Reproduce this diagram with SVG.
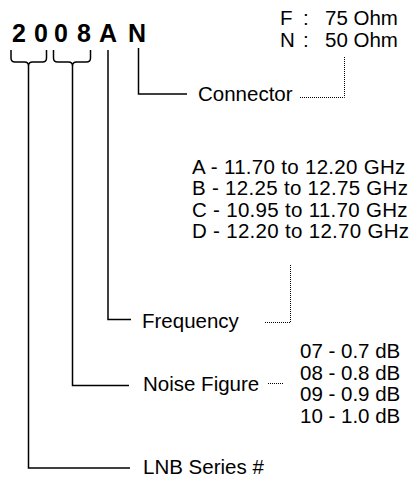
<svg xmlns="http://www.w3.org/2000/svg" width="416" height="477" viewBox="0 0 416 477">
<style>
text{font-family:"Liberation Sans",Arial,sans-serif;font-size:20.5px;fill:#000}
.code{font-weight:bold;font-size:25px;text-anchor:middle}
.ln{fill:none;stroke:#000;stroke-width:1.5}
.dot{fill:none;stroke:#000;stroke-width:1;stroke-dasharray:1 1}
</style>
<rect width="416" height="477" fill="#fff"/>
<g id="code">
<text class="code" x="19" y="42">2</text>
<text class="code" x="41" y="42">0</text>
<text class="code" x="61" y="42">0</text>
<text class="code" x="84" y="42">8</text>
<text class="code" x="108" y="42">A</text>
<text class="code" x="137" y="42">N</text>
</g>
<g id="connectors">
<path class="ln" d="M11,50 V58 Q11,62 15,62 H24.5 Q28.5,62 28.5,66 Q28.5,62 32.5,62 H42.5 Q46.5,62 46.5,58 V50"/>
<path class="ln" d="M53.5,50 V58 Q53.5,62 57.5,62 H68.5 Q72.5,62 72.5,66 Q72.5,62 76.5,62 H86.5 Q90.5,62 90.5,58 V50"/>
<path class="ln" d="M28.5,66 V468 H130"/>
<path class="ln" d="M72.5,66 V385.5 H129"/>
<path class="ln" d="M108,50 V319.5 H131"/>
<path class="ln" d="M138.5,48 V94 H187"/>
<path class="dot" d="M300,97.5 H344.5 V57"/>
<path class="dot" d="M265,322.5 H290.5 V265"/>
<path class="dot" d="M268,383.5 H284"/>
</g>
<g id="connector">
<text x="198" y="101">Connector</text>
<text x="280" y="25">F</text><text x="303" y="25">:</text><text x="325" y="25">75 Ohm</text>
<text x="280" y="47">N</text><text x="303" y="47">:</text><text x="325" y="47">50 Ohm</text>
</g>
<g id="frequency">
<text x="142" y="328">Frequency</text>
<text x="192" y="173.5" letter-spacing="0.3">A - 11.70 to 12.20 GHz</text>
<text x="192" y="195" letter-spacing="0.3">B - 12.25 to 12.75 GHz</text>
<text x="192" y="216.7" letter-spacing="0.3">C - 10.95 to 11.70 GHz</text>
<text x="192" y="238.3" letter-spacing="0.3">D - 12.20 to 12.70 GHz</text>
</g>
<g id="noise">
<text x="143" y="391">Noise Figure</text>
<text x="300" y="358.3">07 - 0.7 dB</text>
<text x="300" y="379.8">08 - 0.8 dB</text>
<text x="300" y="401.3">09 - 0.9 dB</text>
<text x="300" y="422.8">10 - 1.0 dB</text>
</g>
<g id="series">
<text x="143" y="474">LNB Series #</text>
</g>
</svg>
